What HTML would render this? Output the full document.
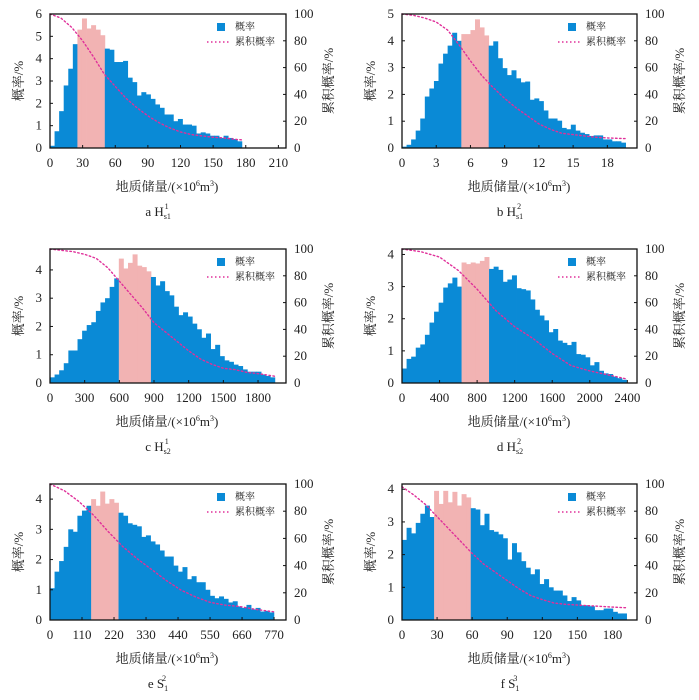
<!DOCTYPE html>
<html><head><meta charset="utf-8">
<style>
html,body{margin:0;padding:0;background:#fff;}
svg{display:block;font-family:"Liberation Serif","Noto Serif CJK SC",serif;}
.t{font-size:13px;fill:#222;}
.cj{font-family:"Liberation Serif","Noto Serif CJK SC","Noto Sans CJK SC",serif;font-size:13px;fill:#222;}
.lg{font-family:"Liberation Serif","Noto Serif CJK SC","Noto Sans CJK SC",serif;font-size:10px;fill:#222;}
</style></head>
<body>
<svg id="fig" width="699" height="700" viewBox="0 0 699 700" xmlns="http://www.w3.org/2000/svg"></svg>
<script>
// ---- data ----
const aBars=[0.1,0.75,1.65,2.8,3.55,4.65,5.3,5.8,5.35,5.5,5.3,5.05,4.45,4.4,3.85,3.85,3.9,3.15,2.95,2.35,2.5,2.4,2.2,1.95,1.8,1.5,1.5,1.2,1.3,1.05,1.05,1.0,0.65,0.7,0.65,0.55,0.55,0.45,0.55,0.45,0.4,0.3];
const aCumX=[0,10,20,30,40,50,60,70,80,90,100,110,120,130,140,150,160,170,177];
const aCumY=[100,97,90,80,68,55,46,37,30,24,19,15,12,10,9,8,7.5,6.5,6];
const aXTicks=[0,30,60,90,120,150,180,210];
const aYTicks=[0,1,2,3,4,5,6];

const bBars=[0.05,0.12,0.32,0.65,1.1,1.92,2.22,2.5,3.15,3.52,3.82,4.3,4.0,4.25,4.25,4.4,4.8,4.5,4.2,3.82,3.98,3.35,2.98,2.72,2.9,2.6,2.45,2.48,1.8,1.85,1.75,1.4,1.1,1.1,1.02,0.75,0.7,0.87,0.65,0.57,0.52,0.45,0.47,0.47,0.32,0.32,0.25,0.25,0.2];
const bCumX=[0,1,2,3,4,5,6,7,8,9,10,11,12,13,14,15,16,17,18,19.6];
const bCumY=[100,99,97,94,88,77,65,54,45,37,30,24,18,14,11,10,9,8,7.5,7];
const bXTicks=[0,3,6,9,12,15,18];
const bYTicks=[0,1,2,3,4,5];

const cBars=[0.2,0.3,0.45,0.7,1.15,1.15,1.55,1.85,2.05,2.15,2.55,2.85,3.0,3.4,3.7,4.4,4.05,4.25,4.55,4.15,4.1,3.95,3.75,3.45,3.6,3.25,3.1,2.7,2.4,2.5,2.35,2.1,1.9,1.6,1.75,1.2,1.35,0.95,0.8,0.75,0.65,0.6,0.48,0.4,0.4,0.4,0.3,0.25,0.2];
const cCumX=[0,100,200,300,400,500,600,700,800,900,1000,1100,1200,1300,1400,1500,1600,1700,1800,1946];
const cCumY=[100,99,98,96,93,86,76,66,56,45,38,31,24,18,14,11,10,8,7,5];
const cXTicks=[0,300,600,900,1200,1500,1800];
const cYTicks=[0,1,2,3,4];

const dBars=[0.45,0.75,0.82,1.1,1.2,1.5,1.88,2.22,2.5,2.97,3.1,3.28,3.0,3.75,3.7,3.75,3.72,3.8,3.92,3.55,3.62,3.52,3.15,3.22,3.35,2.95,2.92,2.88,2.6,2.28,2.1,1.95,1.58,1.68,1.32,1.25,1.18,1.28,0.9,0.88,0.8,0.55,0.65,0.38,0.3,0.28,0.2,0.15,0.1];
const dCumX=[0,200,400,600,800,1000,1200,1400,1600,1800,2000,2200,2393];
const dCumY=[100,98,94,84,70,54,42,33,22,13,9,6,3];
const dXTicks=[0,400,800,1200,1600,2000,2400];
const dYTicks=[0,1,2,3,4];

const eBars=[1.05,1.6,1.95,2.42,3.0,2.92,3.45,3.62,3.78,4.0,3.78,4.25,3.85,4.0,3.88,3.55,3.45,3.2,3.15,3.1,2.75,2.8,2.6,2.5,2.3,2.1,2.1,1.8,1.6,1.75,1.35,1.45,1.25,1.25,1.0,0.8,0.72,0.78,0.7,0.58,0.62,0.45,0.4,0.5,0.35,0.4,0.28,0.3,0.25];
const eCumX=[0,50,100,150,200,250,300,350,400,450,500,550,600,650,700,770];
const eCumY=[100,95,87,77,65,54,45,37,29,22,17,13,11,10,8,6];
const eXTicks=[0,110,220,330,440,550,660,770];
const eYTicks=[0,1,2,3,4];

const fBars=[2.45,2.82,2.65,2.97,3.25,3.5,3.15,3.95,3.55,3.95,3.6,3.92,3.5,3.85,3.75,3.42,3.38,2.9,3.25,2.75,2.7,2.62,2.5,1.85,2.35,2.07,1.8,1.6,1.4,1.55,1.1,1.25,1.0,0.9,0.9,0.75,0.58,0.7,0.6,0.45,0.45,0.42,0.3,0.3,0.35,0.35,0.25,0.2,0.2];
const fCumX=[0,10,20,30,40,50,60,70,80,90,100,110,120,130,140,150,160,170,180,192];
const fCumY=[98,92,85,76,67,58,49,41,35,29,23,18,15,12.5,11.5,11,10.5,10,9.5,9];
const fXTicks=[0,30,60,90,120,150,180];
const fYTicks=[0,1,2,3,4];

const rightTicks=[0,20,40,60,80,100];

const panels=[
 {id:'a',bars:aBars,bw:4.2,p0:6,p1:11,cx:aCumX,cy:aCumY,xt:aXTicks,yt:aYTicks,xmax:217,ymax:6,box:[50,286,14,148],sub:'s1',sup:'1',L:'H'},
 {id:'b',bars:bBars,bw:0.4,p0:13,p1:18,cx:bCumX,cy:bCumY,xt:bXTicks,yt:bYTicks,xmax:20.6,ymax:5,box:[402,637,14,148],sub:'s1',sup:'2',L:'H'},
 {id:'c',bars:cBars,bw:39.7,p0:15,p1:21,cx:cCumX,cy:cCumY,xt:cXTicks,yt:cYTicks,xmax:2042,ymax:4.74,box:[50,286,249,383],sub:'s2',sup:'1',L:'H'},
 {id:'d',bars:dBars,bw:48.8,p0:13,p1:18,cx:dCumX,cy:dCumY,xt:dXTicks,yt:dYTicks,xmax:2503,ymax:4.17,box:[402,637,249,383],sub:'s2',sup:'2',L:'H'},
 {id:'e',bars:eBars,bw:15.7,p0:9,p1:14,cx:eCumX,cy:eCumY,xt:eXTicks,yt:eYTicks,xmax:811,ymax:4.5,box:[50,286,484,620],sub:'1',sup:'2',L:'S'},
 {id:'f',bars:fBars,bw:3.92,p0:7,p1:14,cx:fCumX,cy:fCumY,xt:fXTicks,yt:fYTicks,xmax:201,ymax:4.16,box:[402,637,484,620],sub:'1',sup:'3',L:'S'}
];

const NS='http://www.w3.org/2000/svg';
const svg=document.getElementById('fig');
function mk(tag,attrs,parent){const e=document.createElementNS(NS,tag);for(const k in attrs)e.setAttribute(k,attrs[k]);(parent||svg).appendChild(e);return e;}

panels.forEach(p=>{
  const [l,r,t,b]=p.box;
  const g=mk('g',{});
  
  
  const X=v=>l+(v/p.xmax)*(r-l);
  const Y=v=>b-(v/p.ymax)*(b-t);
  const Y2=v=>b-(v/100)*(b-t);
  p.bars.forEach((h,i)=>{
    const x0=X(i*p.bw),x1=X((i+1)*p.bw);
    const pink=i>=p.p0&&i<=p.p1;
    const rc=mk('rect',{x:x0,y:Y(h),width:x1-x0+0.4,height:b-Y(h),fill:pink?'#f2b3b3':'#0a8ad6'},g);
    
    
  });
  const pts=p.cx.map((v,i)=>X(v)+','+Y2(p.cy[i])).join(' ');
  const pl=mk('polyline',{points:pts,fill:'none',stroke:'#e0309a','stroke-width':1.4,'stroke-dasharray':'1.5 2.5','stroke-linecap':'round'},g);
  
  
  const fr=mk('rect',{x:l,y:t,width:r-l,height:b-t,fill:'none',stroke:'#111','stroke-width':1.3},g);
  
  
  p.xt.forEach(v=>{
    mk('line',{x1:X(v),x2:X(v),y1:b,y2:b-3,stroke:'#111'},g);
    const tx=mk('text',{x:X(v),y:b+19,'text-anchor':'middle',class:'t'},g);
    tx.textContent=v;
    
    
  });
  p.yt.forEach(v=>{
    mk('line',{x1:l,x2:l+3,y1:Y(v),y2:Y(v),stroke:'#111'},g);
    const tx=mk('text',{x:l-8,y:Y(v)+4,'text-anchor':'end',class:'t'},g);
    tx.textContent=v;
    
    
  });
  rightTicks.forEach(v=>{
    mk('line',{x1:r,x2:r-3,y1:Y2(v),y2:Y2(v),stroke:'#111'},g);
    const tx=mk('text',{x:r+8,y:Y2(v)+4,'text-anchor':'start',class:'t'},g);
    tx.textContent=v;
    
    
  });
  const my=(t+b)/2;
  const yl=mk('text',{x:0,y:0,transform:'translate('+(l-27)+','+my+') rotate(-90)','text-anchor':'middle',class:'cj'},g);
  yl.textContent='概率/%';
  
  
  const yr=mk('text',{x:0,y:0,transform:'translate('+(r+47)+','+my+') rotate(-90)','text-anchor':'middle',class:'cj'},g);
  yr.textContent='累积概率/%';
  
  
  const xt=mk('text',{x:l+117,y:b+43,'text-anchor':'middle',class:'cj'},g);
  xt.innerHTML='地质储量/(×10<tspan dy="-5" font-size="8">6</tspan><tspan dy="5">m</tspan><tspan dy="-5" font-size="8">3</tspan><tspan dy="5">)</tspan>';
  
  
  const cp=mk('text',{x:l+108,y:b+68,'text-anchor':'middle',class:'t'},g);
  cp.innerHTML=p.id+'  '+p.L+'<tspan dy="3" font-size="8">'+p.sub+'</tspan><tspan dx="-6" dy="-10" font-size="8">'+p.sup+'</tspan>';
  
  
  const lg=mk('g',{},g);
  
  
  mk('rect',{x:r-69,y:t+9,width:8,height:8,fill:'#0a8ad6'},lg);
  const l1=mk('text',{x:r-51,y:t+16,class:'lg'},lg);
  l1.textContent='概率';
  
  
  mk('line',{x1:r-79,x2:r-56,y1:t+28,y2:t+28,stroke:'#e0309a','stroke-width':1.4,'stroke-dasharray':'1.5 2.5'},lg);
  const l2=mk('text',{x:r-51,y:t+31,class:'lg'},lg);
  l2.textContent='累积概率';
  
  
});
</script>
</body></html>
